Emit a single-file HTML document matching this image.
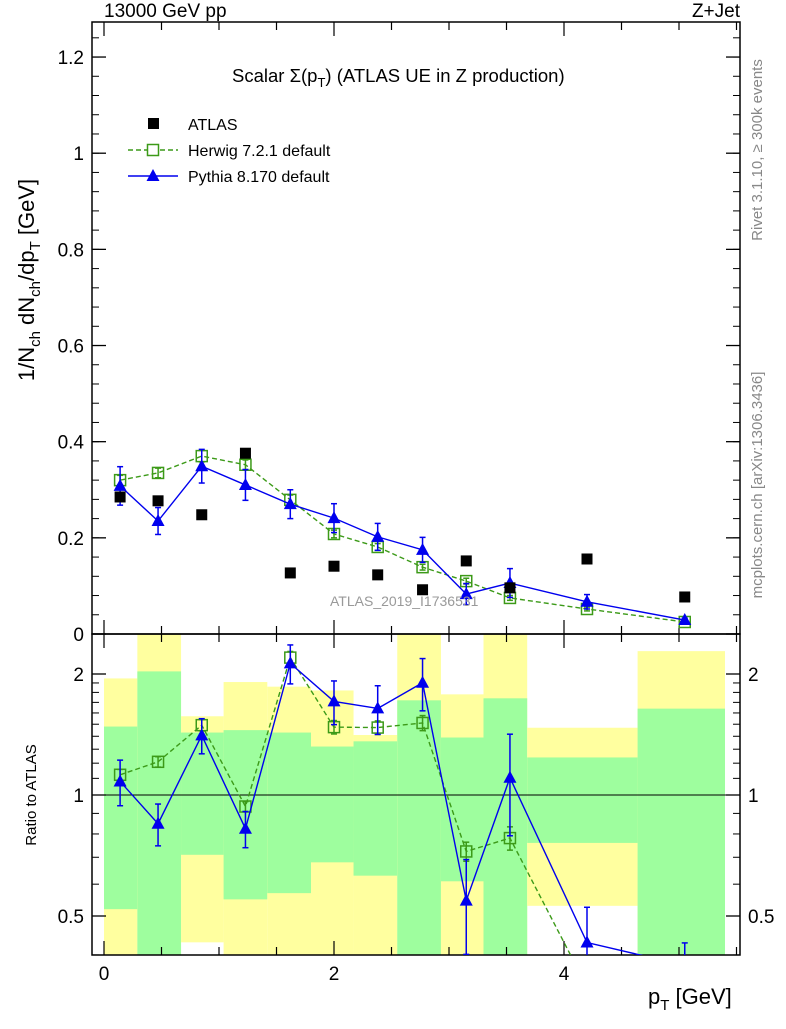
<!DOCTYPE html>
<html><head><meta charset="utf-8"><style>
body{margin:0;background:#fff;}
svg text{font-family:"Liberation Sans",sans-serif;}
</style></head><body>
<svg id="c" width="786" height="1024" xmlns="http://www.w3.org/2000/svg"></svg>
<script>
const xs=[0.14,0.47,0.85,1.23,1.62,2.0,2.38,2.77,3.15,3.53,4.2,5.05];
const atlas=[0.285,0.277,0.248,0.376,0.127,0.141,0.123,0.092,0.152,0.096,0.156,0.077];
const herwig=[0.32,0.335,0.37,0.352,0.279,0.208,0.181,0.139,0.110,0.075,0.052,0.025];
const herwigErr=[0.01,0.01,0.012,0.01,0.01,0.008,0.007,0.006,0.006,0.005,0.004,0.003];
const pythia=[0.308,0.235,0.349,0.31,0.27,0.241,0.202,0.175,0.083,0.106,0.067,0.029];
const pythiaErr=[0.04,0.028,0.035,0.032,0.03,0.03,0.028,0.026,0.022,0.03,0.015,0.004];
const binEdges=[0,0.29,0.67,1.04,1.42,1.8,2.17,2.55,2.93,3.3,3.68,4.64,5.4];
const greenLo=[0.52,0.3,0.71,0.55,0.57,0.68,0.63,0.3,0.61,0.3,0.76,0.3];
const greenHi=[1.48,2.03,1.43,1.45,1.43,1.32,1.36,1.72,1.39,1.74,1.24,1.64];
const yellowLo=[0.3,0.3,0.43,0.3,0.3,0.3,0.3,0.3,0.3,0.3,0.53,0.3];
const yellowHi=[1.95,3,1.57,1.91,1.86,1.82,1.41,3,1.78,3,1.47,2.28];
const yTicks=[0,0.2,0.4,0.6,0.8,1,1.2];
const yTickLabels=["0","0.2","0.4","0.6","0.8","1","1.2"];
const rTicks=[0.5,1,2];
const xTicks=[0,2,4];

const NS="http://www.w3.org/2000/svg";
const svg=document.getElementById('c');
function el(t,a,p){const e=document.createElementNS(NS,t);for(const k in a)e.setAttribute(k,a[k]);(p||svg).appendChild(e);return e;}
const L=92,R=740,T=22,MB=634,RB=955;
const X=v=>104+v*115;
const Y=v=>634-v*480.8;
const RY=v=>795-Math.log2(v)*121;
const clipR=v=>Math.max(634,Math.min(RB,RY(v)));

const defs=el('defs',{});
const cp=el('clipPath',{id:'rc'},defs);el('rect',{x:L,y:634,width:R-L,height:RB-634},cp);
const cm=el('clipPath',{id:'mc'},defs);el('rect',{x:L,y:T,width:R-L,height:MB-T},cm);

const bands=el('g',{'clip-path':'url(#rc)'});


for(let i=0;i<greenLo.length;i++){
  const x0=X(binEdges[i]),x1=X(binEdges[i+1]);
  const y=el('rect',{x:x0,y:clipR(yellowHi[i]),width:x1-x0,height:clipR(yellowLo[i])-clipR(yellowHi[i]),fill:'#ffff9f'},bands);
  
  
  const g=el('rect',{x:x0,y:clipR(greenHi[i]),width:x1-x0,height:clipR(greenLo[i])-clipR(greenHi[i]),fill:'#9efe9e'},bands);
  
  
}
el('line',{x1:L,x2:R,y1:RY(1),y2:RY(1),stroke:'#000','stroke-width':1});

el('rect',{x:L,y:T,width:R-L,height:MB-T,fill:'none',stroke:'#000','stroke-width':1.5});
el('rect',{x:L,y:634,width:R-L,height:RB-634,fill:'none',stroke:'#000','stroke-width':1.5});

for(let i=0;i<yTicks.length;i++){
  const y=Y(yTicks[i]);
  el('line',{x1:L,x2:L+14,y1:y,y2:y,stroke:'#000','stroke-width':1.3});
  el('line',{x1:R,x2:R-14,y1:y,y2:y,stroke:'#000','stroke-width':1.3});
  const t=el('text',{x:L-8,y:y+7,'text-anchor':'end','font-size':19});t.textContent=yTickLabels[i];
  
  
}
for(let v=0;v<=1.25;v+=0.04){const y=Y(v);if(y<T)break;el('line',{x1:L,x2:L+7,y1:y,y2:y,stroke:'#000'});el('line',{x1:R,x2:R-7,y1:y,y2:y,stroke:'#000'});}
for(const p of [[MB,-1],[RB,-1],[T,1],[634,1]]){
  for(let v=0;v<=5.6;v+=0.5){const x=X(v);if(x>R)break;const big=Math.abs(v-Math.round(v/2)*2)<1e-6;const len=big?14:8;el('line',{x1:x,x2:x,y1:p[0],y2:p[0]+p[1]*len,stroke:'#000','stroke-width':1.2});}
}
for(const v of xTicks){const t=el('text',{x:X(v),y:980,'text-anchor':'middle','font-size':19});t.textContent=v;

}
for(let v=0.4;v<=2.5;v+=(v<1?0.1:(v<2?0.1:0.5))){const y=RY(v);el('line',{x1:L,x2:L+7,y1:y,y2:y,stroke:'#000'});el('line',{x1:R,x2:R-7,y1:y,y2:y,stroke:'#000'});}
for(const v of rTicks){const y=RY(v);
  el('line',{x1:L,x2:L+14,y1:y,y2:y,stroke:'#000','stroke-width':1.3});el('line',{x1:R,x2:R-14,y1:y,y2:y,stroke:'#000','stroke-width':1.3});
  const a=el('text',{x:L-8,y:y+7,'text-anchor':'end','font-size':19});a.textContent=v;
  
  
  const b=el('text',{x:R+8,y:y+7,'font-size':19});b.textContent=v;
  
  
}

function series(vals,errs,yf,color,dash,marker,name,clip,drawLine){
  const g=el('g',{'clip-path':clip});
  
  
  if(drawLine)el('polyline',{points:vals.map((v,i)=>X(xs[i])+','+yf(v)).join(' '),fill:'none',stroke:color,'stroke-width':1.4,'stroke-dasharray':dash},g);
  vals.forEach((v,i)=>{
    const x=X(xs[i]),y=yf(v);
    if(errs){const y1=errs[i][0],y2=errs[i][1];
      el('line',{x1:x,x2:x,y1:y1,y2:y2,stroke:color,'stroke-width':1.5},g);
      el('line',{x1:x-3,x2:x+3,y1:y1,y2:y1,stroke:color,'stroke-width':1.5},g);
      el('line',{x1:x-3,x2:x+3,y1:y2,y2:y2,stroke:color,'stroke-width':1.5},g);}
    let m;
    if(marker=='sq')m=el('rect',{x:x-5.5,y:y-5.5,width:11,height:11,fill:'none',stroke:color,'stroke-width':1.5},g);
    else if(marker=='tri')m=el('polygon',{points:`${x},${y-7} ${x-6.5},${y+5} ${x+6.5},${y+5}`,fill:color},g);
    else m=el('rect',{x:x-5.5,y:y-5.5,width:11,height:11,fill:'#000'},g);
    
    
  });
}
series(herwig,herwig.map((v,i)=>[Y(v-herwigErr[i]),Y(v+herwigErr[i])]),Y,'#3c9a18','5,3','sq','herwig-series','url(#mc)',true);
series(pythia,pythia.map((v,i)=>[Y(v-pythiaErr[i]),Y(v+pythiaErr[i])]),Y,'#0000ee','','tri','pythia-series','url(#mc)',true);
series(atlas,null,Y,'#000','','fill','atlas-series','url(#mc)',false);
const hr=herwig.map((v,i)=>v/atlas[i]), pr=pythia.map((v,i)=>v/atlas[i]);
series(hr,hr.map((v,i)=>[RY((herwig[i]-herwigErr[i])/atlas[i]),RY((herwig[i]+herwigErr[i])/atlas[i])]),RY,'#3c9a18','5,3','sq','herwig-ratio','url(#rc)',true);
series(pr,pr.map((v,i)=>[RY((pythia[i]-pythiaErr[i])/atlas[i]),RY((pythia[i]+pythiaErr[i])/atlas[i])]),RY,'#0000ee','','tri','pythia-ratio','url(#rc)',true);

function txt(s,a,name){const t=el('text',a);t.innerHTML=s;return t;}
txt('13000 GeV pp',{x:104,y:17,'font-size':19},'energy-label');
txt('Z+Jet',{x:740,y:17,'text-anchor':'end','font-size':19},'process-label');
txt('Scalar Σ(p<tspan font-size="13" dy="5">T</tspan><tspan dy="-5">) (ATLAS UE in Z production)</tspan>',{x:232,y:82,'font-size':18.5},'plot-title');
txt('ATLAS_2019_I1736531',{x:330,y:606,'font-size':14,fill:'#999'},'analysis-watermark');
txt('p<tspan font-size="15" dy="6">T</tspan><tspan dy="-6"> [GeV]</tspan>',{x:648,y:1004,'font-size':22},'x-axis-title');
txt('1/N<tspan font-size="15" dy="6">ch</tspan><tspan dy="-6"> dN</tspan><tspan font-size="15" dy="6">ch</tspan><tspan dy="-6">/dp</tspan><tspan font-size="15" dy="6">T</tspan><tspan dy="-6"> [GeV]</tspan>',{transform:'translate(34,280) rotate(-90)','font-size':22,'text-anchor':'middle'},'y-axis-title');
txt('Ratio to ATLAS',{transform:'translate(36,795) rotate(-90)','font-size':15,'text-anchor':'middle'},'ratio-axis-title');
txt('Rivet 3.1.10, ≥ 300k events',{transform:'translate(762,150) rotate(-90)','font-size':15,fill:'#888','text-anchor':'middle'},'rivet-label');
txt('mcplots.cern.ch [arXiv:1306.3436]',{transform:'translate(762,485) rotate(-90)','font-size':15,fill:'#888','text-anchor':'middle'},'mcplots-label');
const lg=el('g',{});
el('rect',{x:148,y:118,width:11,height:11,fill:'#000'},lg);
txt('ATLAS',{x:188,y:130,'font-size':16},'legend-atlas');
el('line',{x1:128,x2:178,y1:150,y2:150,stroke:'#3c9a18','stroke-width':1.4,'stroke-dasharray':'5,3'},lg);
el('rect',{x:147.5,y:144.5,width:11,height:11,fill:'#fff',stroke:'#3c9a18','stroke-width':1.5},lg);
txt('Herwig 7.2.1 default',{x:188,y:156,'font-size':16},'legend-herwig');
el('line',{x1:128,x2:178,y1:176,y2:176,stroke:'#0000ee','stroke-width':1.4},lg);
el('polygon',{points:'153,169 146.5,181 159.5,181',fill:'#0000ee'},lg);
txt('Pythia 8.170 default',{x:188,y:182,'font-size':16},'legend-pythia');
</script>
</body></html>
